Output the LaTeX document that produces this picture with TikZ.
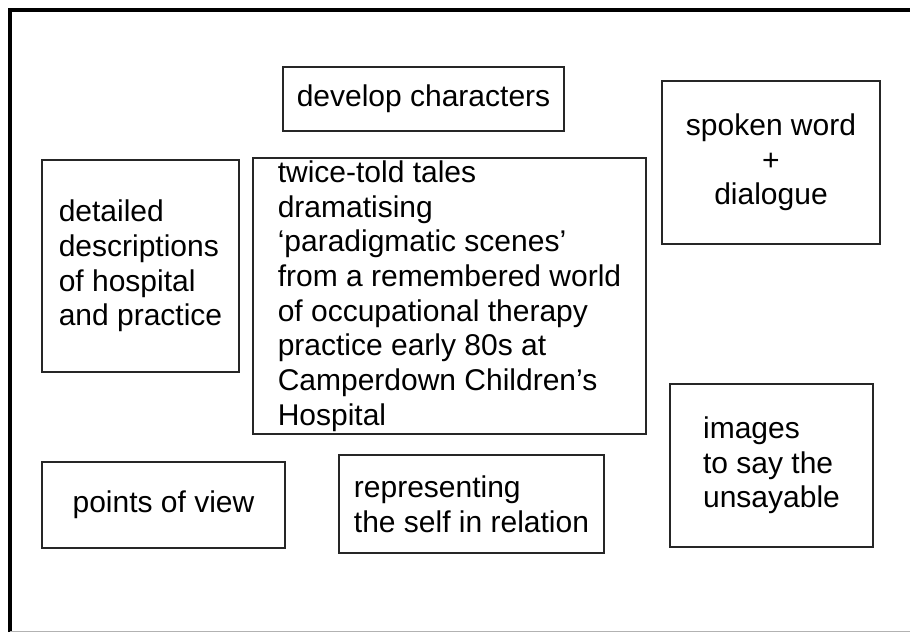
\documentclass[tikz,border=0pt]{standalone}
\usepackage{fontspec}
\setmainfont{Liberation Sans}
\usetikzlibrary{positioning}

\begin{document}
\begin{tikzpicture}[x=0.75pt,y=-0.75pt,
  every node/.style={font=\fontsize{22.5}{26}\selectfont},
  theme/.style={draw=black!85,line width=1pt,anchor=north west,inner sep=0pt,outer sep=0pt,align=left}]
  \useasboundingbox (0,0) rectangle (910,632);
  % outer frame
  \draw[line width=2.4pt] (10,632) -- (10,10) -- (910,10);
  \draw[black!30,line width=0.6pt] (10,631) -- (910,631);
  % themes round the tales
  \node[theme,minimum width=210.75pt,minimum height=48pt] (develop) at (283,67) {develop characters};
  \node[theme,align=center,minimum width=163.5pt,minimum height=122.25pt] (spoken) at (662,81) {spoken word\\+\\dialogue};
  \node[theme,minimum width=147.75pt,minimum height=159pt] (detailed) at (42,160) {detailed\\descriptions\\of hospital\\and practice};
  \node[theme,minimum width=294.75pt,minimum height=207pt] (tales) at (253,158) {twice-told tales\\dramatising\\‘paradigmatic scenes’\\from a remembered world\\of occupational therapy\\practice early 80s at\\Camperdown Children’s\\Hospital};
  \node[theme,minimum width=182.25pt,minimum height=64.5pt] (views) at (42,462) {points of view};
  \node[theme,minimum width=198.75pt,minimum height=73.5pt] (self) at (339,455) {representing\\the self in relation};
  \node[theme,minimum width=152.25pt,minimum height=122.25pt] (images) at (670,384) {images\\to say the\\unsayable};
\end{tikzpicture}
\end{document}
